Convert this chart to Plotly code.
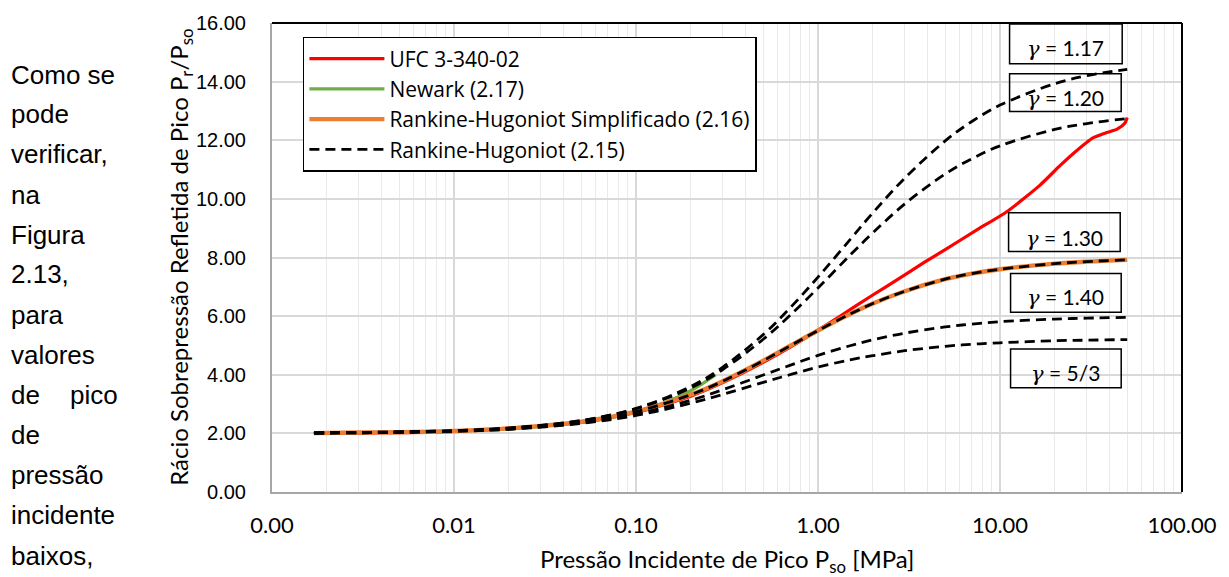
import plotly.graph_objects as go

# ---------------- data ----------------
P = [0.0017, 0.003, 0.005, 0.01, 0.02, 0.05, 0.1, 0.2, 0.3, 0.5, 0.7, 1, 1.5, 2, 3, 5, 7, 10, 20, 30, 50]

rh_117 = [2.02, 2.03, 2.05, 2.09, 2.18, 2.44, 2.85, 3.60, 4.26, 5.37, 6.27, 7.33, 8.61, 9.52, 10.71, 11.98, 12.64, 13.20, 13.93, 14.20, 14.42]
rh_120 = [2.02, 2.03, 2.05, 2.09, 2.18, 2.43, 2.84, 3.55, 4.18, 5.21, 6.02, 6.96, 8.08, 8.84, 9.83, 10.85, 11.37, 11.81, 12.37, 12.57, 12.74]
rh_140 = [2.01, 2.03, 2.04, 2.08, 2.17, 2.40, 2.74, 3.32, 3.78, 4.48, 4.98, 5.51, 6.07, 6.43, 6.85, 7.26, 7.45, 7.60, 7.79, 7.86, 7.92]
rh_53 = [2.01, 2.02, 2.04, 2.08, 2.15, 2.36, 2.66, 3.13, 3.49, 3.99, 4.32, 4.66, 4.99, 5.19, 5.42, 5.63, 5.73, 5.81, 5.90, 5.93, 5.96]
rh_low = [2.01, 2.02, 2.04, 2.07, 2.14, 2.34, 2.61, 3.03, 3.33, 3.74, 4.00, 4.26, 4.51, 4.65, 4.82, 4.97, 5.04, 5.09, 5.16, 5.18, 5.20]

rh_simpl = [2.01, 2.03, 2.04, 2.08, 2.17, 2.40, 2.74, 3.32, 3.78, 4.48, 4.98, 5.51, 6.07, 6.43, 6.85, 7.26, 7.45, 7.60, 7.79, 7.86, 7.92]

P_ufc = [0.0017, 0.01, 0.05, 0.1, 0.2, 0.3, 0.5, 0.7, 1.0, 1.3, 2.0, 2.77, 3.85, 5.0, 7.5, 11, 16.6, 21.5, 25.3, 32.4, 38, 44, 48.5, 50]
ufc = [2.00, 2.07, 2.37, 2.71, 3.27, 3.73, 4.42, 4.93, 5.52, 5.97, 6.72, 7.27, 7.84, 8.27, 8.95, 9.58, 10.47, 11.15, 11.55, 12.08, 12.25, 12.38, 12.58, 12.78]

P_newark = [0.0017, 0.005, 0.01, 0.02, 0.05, 0.1, 0.15, 0.2, 0.25, 0.274]
newark = [2.01, 2.04, 2.07, 2.15, 2.37, 2.73, 3.10, 3.46, 3.83, 4.00]

x_tickvals = [0.001, 0.01, 0.1, 1, 10, 100]
x_ticktext = ["0.00", "0.01", "0.10", "1.00", "10.00", "100.00"]

gamma_labels = ["= 1.17", "= 1.20", "= 1.30", "= 1.40", "= 5/3"]

left_lines = ["Como se", "pode", "verificar,", "na", "Figura", "2.13,", "para",
              "valores", None, "de", "pressão", "incidente", "baixos,"]

# ---------------- layout helpers (pixel -> paper) ----------------
W, H = 1229, 577
L, R, T, B = 272, 1185, 20, 492


def px(xp):
    return (xp - L) / (R - L)


def py(yp):
    return (B - yp) / (B - T)


CAL = "Lato, 'Open Sans', sans-serif"
LEG = "'Open Sans', Lato, sans-serif"
ARIAL = "'Liberation Sans', Arial, sans-serif"

fig = go.Figure()

fig.add_trace(go.Scatter(x=P_ufc, y=ufc, mode="lines", name="UFC 3-340-02",
                         line=dict(color="#FF0000", width=3.2, shape="spline", smoothing=0.6)))
fig.add_trace(go.Scatter(x=P_newark, y=newark, mode="lines", name="Newark (2.17)",
                         line=dict(color="#70AD47", width=3.2, shape="spline")))
fig.add_trace(go.Scatter(x=P, y=rh_simpl, mode="lines", name="Rankine-Hugoniot Simplificado (2.16)",
                         line=dict(color="#ED7D31", width=4.4, shape="spline")))
for i, ys in enumerate([rh_117, rh_120, rh_140, rh_53, rh_low]):
    fig.add_trace(go.Scatter(x=P, y=ys, mode="lines", name="Rankine-Hugoniot (2.15)",
                             legendgroup="rh", showlegend=(i == 0),
                             line=dict(color="black", width=2.8, dash="10px,6px", shape="spline")))

minor_vals = [m * 10 ** e for e in range(-3, 2) for m in range(2, 10)]

fig.update_layout(
    width=W, height=H,
    margin=dict(l=L, r=W - R, t=T, b=H - B),
    paper_bgcolor="white", plot_bgcolor="white",
    showlegend=True,
    legend=dict(x=px(303), y=py(34), xanchor="left", yanchor="top",
                bgcolor="white", bordercolor="black", borderwidth=1.5,
                font=dict(family=LEG, size=21, color="black"),
                itemwidth=75, tracegroupgap=0),
    xaxis=dict(type="log", range=[-3, 2], tickvals=x_tickvals, ticktext=x_ticktext,
               showgrid=True, gridcolor="#D9D9D9", gridwidth=1.5,
               minor=dict(tickvals=minor_vals, showgrid=True, gridcolor="#EAEAEA", gridwidth=1.3),
               showline=True, linecolor="#A6A6A6", linewidth=2,
               ticks="", ticklabelstandoff=13,
               tickfont=dict(family=CAL, size=22, color="black"),
               zeroline=False),
    yaxis=dict(range=[0, 16], dtick=2, tickformat=".2f",
               showgrid=True, gridcolor="#D9D9D9", gridwidth=1.5,
               showline=True, linecolor="#A6A6A6", linewidth=2,
               ticks="", ticklabelstandoff=20,
               tickfont=dict(family=ARIAL, size=20, color="black"),
               zeroline=False),
)

shapes = [
    dict(type="line", xref="paper", yref="paper", x0=0, x1=1, y0=1, y1=1,
         line=dict(color="black", width=2)),
    dict(type="line", xref="paper", yref="paper", x0=1, x1=1, y0=0, y1=1,
         line=dict(color="black", width=2)),
]
boxes = [(1012, 1125, 21, 61, 45), (1012, 1124, 71, 109, 95), (1011, 1123, 211, 250, 236),
         (1013, 1124, 272, 311, 296), (1013, 1124, 348, 387, 372)]
annotations = []
for (x0, x1, y0, y1, yt), lab in zip(boxes, gamma_labels):
    shapes.append(dict(type="rect", xref="paper", yref="paper",
                       x0=px(x0), x1=px(x1), y0=py(y1), y1=py(y0),
                       line=dict(color="black", width=1.5), fillcolor="rgba(0,0,0,0)"))
    annotations.append(dict(xref="paper", yref="paper", x=px((x0 + x1) / 2), y=py(yt),
                            text="<i><span style=\"font-family:'DejaVu Serif'\">γ</span></i> " + lab,
                            showarrow=False, xanchor="center", yanchor="middle",
                            font=dict(family=CAL, size=21, color="black")))

# axis titles
annotations.append(dict(xref="paper", yref="paper", x=px(180), y=0.5, textangle=-90,
                        text="Rácio Sobrepressão Refletida de Pico P<sub>r</sub>/P<sub>so</sub>",
                        showarrow=False, xanchor="center", yanchor="middle",
                        font=dict(family=CAL, size=24, color="black")))
annotations.append(dict(xref="paper", yref="paper", x=px(728), y=py(561),
                        text="Pressão Incidente de Pico P<sub>so</sub> [MPa]",
                        showarrow=False, xanchor="center", yanchor="middle",
                        font=dict(family=CAL, size=24, color="black")))

# left column of body text
line_y = [72, 112, 152, 193, 233, 273, 314, 354, 394, 435, 475, 515, 556]
FS = 26
for t, yy in zip(left_lines, line_y):
    if t is None:
        annotations.append(dict(xref="paper", yref="paper", x=px(8), y=py(yy), text="de",
                                showarrow=False, xanchor="left", yanchor="middle",
                                font=dict(family=ARIAL, size=FS, color="black")))
        annotations.append(dict(xref="paper", yref="paper", x=px(120), y=py(yy), text="pico",
                                showarrow=False, xanchor="right", yanchor="middle",
                                font=dict(family=ARIAL, size=FS, color="black")))
    else:
        annotations.append(dict(xref="paper", yref="paper", x=px(8), y=py(yy), text=t,
                                showarrow=False, xanchor="left", yanchor="middle",
                                font=dict(family=ARIAL, size=FS, color="black")))

fig.update_layout(shapes=shapes, annotations=annotations)
fig.write_html("out.html")
